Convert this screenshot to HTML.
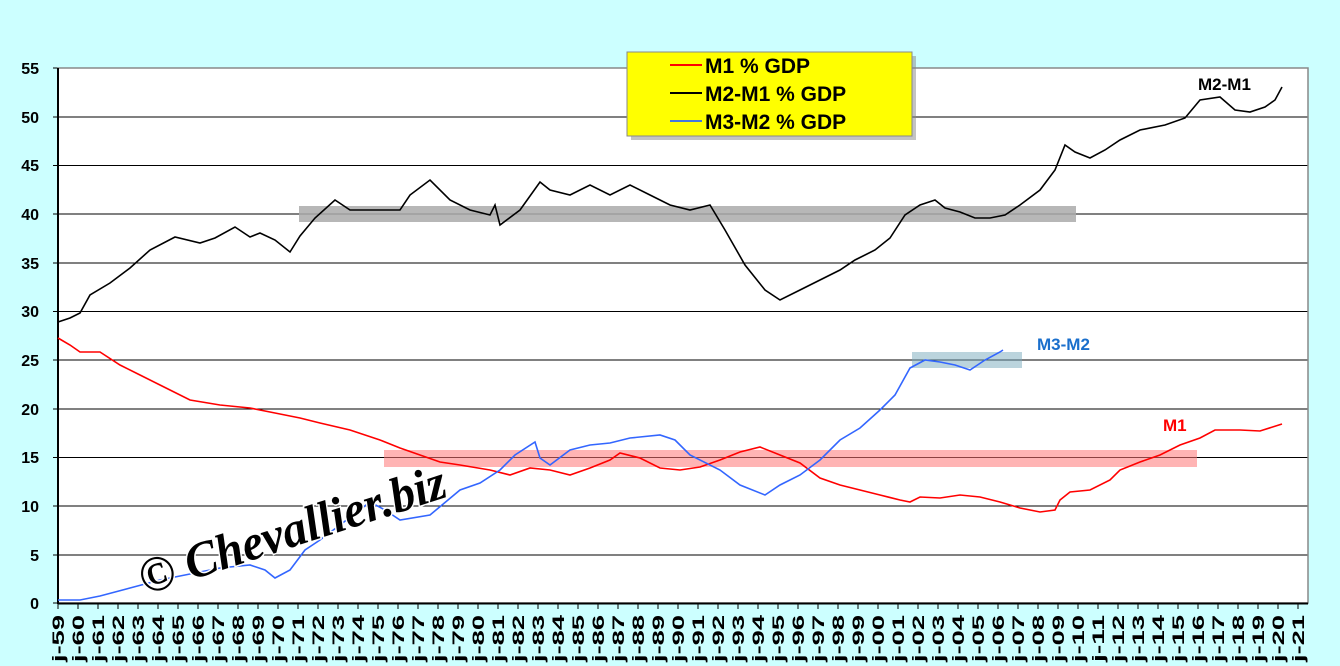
<!DOCTYPE html>
<html><head><meta charset="utf-8"><style>
body{margin:0;background:#ccffff;}
svg{display:block;font-family:"Liberation Sans",sans-serif;}
</style></head><body>
<svg width="1340" height="666" viewBox="0 0 1340 666">
<rect width="1340" height="666" fill="#ccffff"/>
<rect x="58" y="68" width="1250" height="535" fill="#fff"/>
<g stroke="#000" stroke-width="1">
<line x1="53" x2="1308" y1="117" y2="117"/><line x1="53" x2="1308" y1="165.5" y2="165.5"/>
<line x1="53" x2="1308" y1="214" y2="214"/><line x1="53" x2="1308" y1="263" y2="263"/>
<line x1="53" x2="1308" y1="311.5" y2="311.5"/><line x1="53" x2="1308" y1="360" y2="360"/>
<line x1="53" x2="1308" y1="409" y2="409"/><line x1="53" x2="1308" y1="457.5" y2="457.5"/>
<line x1="53" x2="1308" y1="506" y2="506"/><line x1="53" x2="1308" y1="555" y2="555"/>
<line x1="53" x2="58" y1="68" y2="68"/><line x1="53" x2="58" y1="603" y2="603"/>
</g>
<rect x="58" y="68" width="1250" height="535" fill="none" stroke="#888" stroke-width="1.5"/>
<line x1="58" x2="58" y1="68" y2="604" stroke="#000" stroke-width="2"/>
<line x1="58" x2="1308" y1="603.5" y2="603.5" stroke="#000" stroke-width="2"/>
<g font-size="16" font-weight="bold" text-anchor="end">
<text x="39" y="74">55</text><text x="39" y="123">50</text><text x="39" y="171">45</text>
<text x="39" y="220">40</text><text x="39" y="269">35</text><text x="39" y="317">30</text>
<text x="39" y="366">25</text><text x="39" y="415">20</text><text x="39" y="463">15</text>
<text x="39" y="512">10</text><text x="39" y="561">5</text><text x="39" y="609">0</text>
</g>
<g stroke="#000" stroke-width="1">
<path d="M58,603v6M78,603v6M98,603v6M118,603v6M138,603v6M158,603v6M178,603v6M198,603v6M218,603v6M238,603v6M258,603v6M278,603v6M298,603v6M318,603v6M338,603v6M358,603v6M378,603v6M398,603v6M418,603v6M438,603v6M458,603v6M478,603v6M498,603v6M518,603v6M538,603v6M558,603v6M578,603v6M598,603v6M618,603v6M638,603v6M658,603v6M678,603v6M698,603v6M718,603v6M738,603v6M758,603v6M778,603v6M798,603v6M818,603v6M838,603v6M858,603v6M878,603v6M898,603v6M918,603v6M938,603v6M958,603v6M978,603v6M998,603v6M1018,603v6M1038,603v6M1058,603v6M1078,603v6M1098,603v6M1118,603v6M1138,603v6M1158,603v6M1178,603v6M1198,603v6M1218,603v6M1238,603v6M1258,603v6M1278,603v6M1298,603v6"/>
</g>
<g font-size="17" font-weight="bold">
<text transform="translate(64,662) rotate(-90)" textLength="47" lengthAdjust="spacingAndGlyphs">j-59</text>
<text transform="translate(84,662) rotate(-90)" textLength="47" lengthAdjust="spacingAndGlyphs">j-60</text>
<text transform="translate(104,662) rotate(-90)" textLength="47" lengthAdjust="spacingAndGlyphs">j-61</text>
<text transform="translate(124,662) rotate(-90)" textLength="47" lengthAdjust="spacingAndGlyphs">j-62</text>
<text transform="translate(144,662) rotate(-90)" textLength="47" lengthAdjust="spacingAndGlyphs">j-63</text>
<text transform="translate(164,662) rotate(-90)" textLength="47" lengthAdjust="spacingAndGlyphs">j-64</text>
<text transform="translate(184,662) rotate(-90)" textLength="47" lengthAdjust="spacingAndGlyphs">j-65</text>
<text transform="translate(204,662) rotate(-90)" textLength="47" lengthAdjust="spacingAndGlyphs">j-66</text>
<text transform="translate(224,662) rotate(-90)" textLength="47" lengthAdjust="spacingAndGlyphs">j-67</text>
<text transform="translate(244,662) rotate(-90)" textLength="47" lengthAdjust="spacingAndGlyphs">j-68</text>
<text transform="translate(264,662) rotate(-90)" textLength="47" lengthAdjust="spacingAndGlyphs">j-69</text>
<text transform="translate(284,662) rotate(-90)" textLength="47" lengthAdjust="spacingAndGlyphs">j-70</text>
<text transform="translate(304,662) rotate(-90)" textLength="47" lengthAdjust="spacingAndGlyphs">j-71</text>
<text transform="translate(324,662) rotate(-90)" textLength="47" lengthAdjust="spacingAndGlyphs">j-72</text>
<text transform="translate(344,662) rotate(-90)" textLength="47" lengthAdjust="spacingAndGlyphs">j-73</text>
<text transform="translate(364,662) rotate(-90)" textLength="47" lengthAdjust="spacingAndGlyphs">j-74</text>
<text transform="translate(384,662) rotate(-90)" textLength="47" lengthAdjust="spacingAndGlyphs">j-75</text>
<text transform="translate(404,662) rotate(-90)" textLength="47" lengthAdjust="spacingAndGlyphs">j-76</text>
<text transform="translate(424,662) rotate(-90)" textLength="47" lengthAdjust="spacingAndGlyphs">j-77</text>
<text transform="translate(444,662) rotate(-90)" textLength="47" lengthAdjust="spacingAndGlyphs">j-78</text>
<text transform="translate(464,662) rotate(-90)" textLength="47" lengthAdjust="spacingAndGlyphs">j-79</text>
<text transform="translate(484,662) rotate(-90)" textLength="47" lengthAdjust="spacingAndGlyphs">j-80</text>
<text transform="translate(504,662) rotate(-90)" textLength="47" lengthAdjust="spacingAndGlyphs">j-81</text>
<text transform="translate(524,662) rotate(-90)" textLength="47" lengthAdjust="spacingAndGlyphs">j-82</text>
<text transform="translate(544,662) rotate(-90)" textLength="47" lengthAdjust="spacingAndGlyphs">j-83</text>
<text transform="translate(564,662) rotate(-90)" textLength="47" lengthAdjust="spacingAndGlyphs">j-84</text>
<text transform="translate(584,662) rotate(-90)" textLength="47" lengthAdjust="spacingAndGlyphs">j-85</text>
<text transform="translate(604,662) rotate(-90)" textLength="47" lengthAdjust="spacingAndGlyphs">j-86</text>
<text transform="translate(624,662) rotate(-90)" textLength="47" lengthAdjust="spacingAndGlyphs">j-87</text>
<text transform="translate(644,662) rotate(-90)" textLength="47" lengthAdjust="spacingAndGlyphs">j-88</text>
<text transform="translate(664,662) rotate(-90)" textLength="47" lengthAdjust="spacingAndGlyphs">j-89</text>
<text transform="translate(684,662) rotate(-90)" textLength="47" lengthAdjust="spacingAndGlyphs">j-90</text>
<text transform="translate(704,662) rotate(-90)" textLength="47" lengthAdjust="spacingAndGlyphs">j-91</text>
<text transform="translate(724,662) rotate(-90)" textLength="47" lengthAdjust="spacingAndGlyphs">j-92</text>
<text transform="translate(744,662) rotate(-90)" textLength="47" lengthAdjust="spacingAndGlyphs">j-93</text>
<text transform="translate(764,662) rotate(-90)" textLength="47" lengthAdjust="spacingAndGlyphs">j-94</text>
<text transform="translate(784,662) rotate(-90)" textLength="47" lengthAdjust="spacingAndGlyphs">j-95</text>
<text transform="translate(804,662) rotate(-90)" textLength="47" lengthAdjust="spacingAndGlyphs">j-96</text>
<text transform="translate(824,662) rotate(-90)" textLength="47" lengthAdjust="spacingAndGlyphs">j-97</text>
<text transform="translate(844,662) rotate(-90)" textLength="47" lengthAdjust="spacingAndGlyphs">j-98</text>
<text transform="translate(864,662) rotate(-90)" textLength="47" lengthAdjust="spacingAndGlyphs">j-99</text>
<text transform="translate(884,662) rotate(-90)" textLength="47" lengthAdjust="spacingAndGlyphs">j-00</text>
<text transform="translate(904,662) rotate(-90)" textLength="47" lengthAdjust="spacingAndGlyphs">j-01</text>
<text transform="translate(924,662) rotate(-90)" textLength="47" lengthAdjust="spacingAndGlyphs">j-02</text>
<text transform="translate(944,662) rotate(-90)" textLength="47" lengthAdjust="spacingAndGlyphs">j-03</text>
<text transform="translate(964,662) rotate(-90)" textLength="47" lengthAdjust="spacingAndGlyphs">j-04</text>
<text transform="translate(984,662) rotate(-90)" textLength="47" lengthAdjust="spacingAndGlyphs">j-05</text>
<text transform="translate(1004,662) rotate(-90)" textLength="47" lengthAdjust="spacingAndGlyphs">j-06</text>
<text transform="translate(1024,662) rotate(-90)" textLength="47" lengthAdjust="spacingAndGlyphs">j-07</text>
<text transform="translate(1044,662) rotate(-90)" textLength="47" lengthAdjust="spacingAndGlyphs">j-08</text>
<text transform="translate(1064,662) rotate(-90)" textLength="47" lengthAdjust="spacingAndGlyphs">j-09</text>
<text transform="translate(1084,662) rotate(-90)" textLength="47" lengthAdjust="spacingAndGlyphs">j-10</text>
<text transform="translate(1104,662) rotate(-90)" textLength="47" lengthAdjust="spacingAndGlyphs">j-11</text>
<text transform="translate(1124,662) rotate(-90)" textLength="47" lengthAdjust="spacingAndGlyphs">j-12</text>
<text transform="translate(1144,662) rotate(-90)" textLength="47" lengthAdjust="spacingAndGlyphs">j-13</text>
<text transform="translate(1164,662) rotate(-90)" textLength="47" lengthAdjust="spacingAndGlyphs">j-14</text>
<text transform="translate(1184,662) rotate(-90)" textLength="47" lengthAdjust="spacingAndGlyphs">j-15</text>
<text transform="translate(1204,662) rotate(-90)" textLength="47" lengthAdjust="spacingAndGlyphs">j-16</text>
<text transform="translate(1224,662) rotate(-90)" textLength="47" lengthAdjust="spacingAndGlyphs">j-17</text>
<text transform="translate(1244,662) rotate(-90)" textLength="47" lengthAdjust="spacingAndGlyphs">j-18</text>
<text transform="translate(1264,662) rotate(-90)" textLength="47" lengthAdjust="spacingAndGlyphs">j-19</text>
<text transform="translate(1284,662) rotate(-90)" textLength="47" lengthAdjust="spacingAndGlyphs">j-20</text>
<text transform="translate(1304,662) rotate(-90)" textLength="47" lengthAdjust="spacingAndGlyphs">j-21</text>
</g>
<rect x="299" y="206" width="777" height="16" fill="#aaa" opacity="0.85"/>
<rect x="384" y="450" width="813" height="17" fill="#f77" opacity="0.55"/>
<rect x="912" y="352" width="110" height="16" fill="#7ab" opacity="0.5"/>
<polyline fill="none" stroke="#000" stroke-width="1.6" points="58,322 70,318 80,313 90,295 110,283 130,268 150,250 175,237 200,243 215,238 235,227 250,237 260,233 275,240 290,252 300,236 315,218 335,200 350,210 375,210 400,210 410,195 430,180 450,200 470,210 490,215 495,205 500,225 520,210 540,182 550,190 570,195 590,185 610,195 630,185 650,195 670,205 690,210 710,205 725,230 745,265 765,290 780,300 800,290 820,280 840,270 855,260 875,250 890,238 905,215 920,205 935,200 945,208 960,212 975,218 990,218 1005,215 1020,205 1040,190 1055,170 1065,145 1075,152 1090,158 1105,150 1120,140 1140,130 1165,125 1185,118 1200,100 1220,97 1235,110 1250,112 1265,107 1275,100 1282,87"/>
<polyline fill="none" stroke="#f00" stroke-width="1.6" points="58,338 70,345 80,352 100,352 120,365 140,375 160,385 190,400 220,405 250,408 275,413 300,418 320,423 350,430 380,440 400,448 420,455 440,462 460,465 490,470 510,475 530,468 550,470 570,475 590,468 610,460 620,453 640,458 660,468 680,470 700,467 720,460 740,452 760,447 780,455 800,463 820,478 840,485 860,490 880,495 900,500 910,502 920,497 940,498 960,495 980,497 1000,502 1020,508 1040,512 1055,510 1060,500 1070,492 1090,490 1110,480 1120,470 1140,462 1160,455 1180,445 1200,438 1215,430 1240,430 1260,431 1282,424"/>
<polyline fill="none" stroke="#3366ff" stroke-width="1.6" points="58,600 80,600 100,596 130,588 160,580 190,574 220,568 250,565 265,570 275,578 290,570 305,550 320,540 340,525 370,502 385,510 400,520 430,515 460,490 480,483 500,470 515,455 535,442 540,458 550,465 570,450 590,445 610,443 630,438 660,435 675,440 690,455 720,470 740,485 765,495 780,485 800,475 820,460 840,440 860,428 880,410 895,395 910,368 925,360 940,362 955,365 970,370 985,360 1000,352 1003,350"/>
<text x="1198" y="90" font-size="17" font-weight="bold">M2-M1</text>
<text x="1037" y="350" font-size="17" font-weight="bold" fill="#1a6fcc">M3-M2</text>
<text x="1163" y="431" font-size="17" font-weight="bold" fill="#f00">M1</text>
<text x="145" y="595" font-size="50" font-weight="bold" font-style="italic" font-family="Liberation Serif,serif" transform="rotate(-18 145 595)" stroke="#fff" stroke-width="3" paint-order="stroke" textLength="320" lengthAdjust="spacingAndGlyphs">© Chevallier.biz</text>
<rect x="631" y="56" width="285" height="84" fill="#888" opacity="0.5"/>
<rect x="627" y="52" width="285" height="84" fill="#ff0" stroke="#888"/>
<line x1="670" x2="702" y1="65" y2="65" stroke="#f00" stroke-width="2"/>
<line x1="670" x2="702" y1="93" y2="93" stroke="#000" stroke-width="2"/>
<line x1="670" x2="702" y1="121" y2="121" stroke="#4477dd" stroke-width="2"/>
<g font-size="21" font-weight="bold"><text x="705" y="73">M1 % GDP</text><text x="705" y="101">M2-M1 % GDP</text><text x="705" y="129">M3-M2 % GDP</text></g>
</svg>
</body></html>
